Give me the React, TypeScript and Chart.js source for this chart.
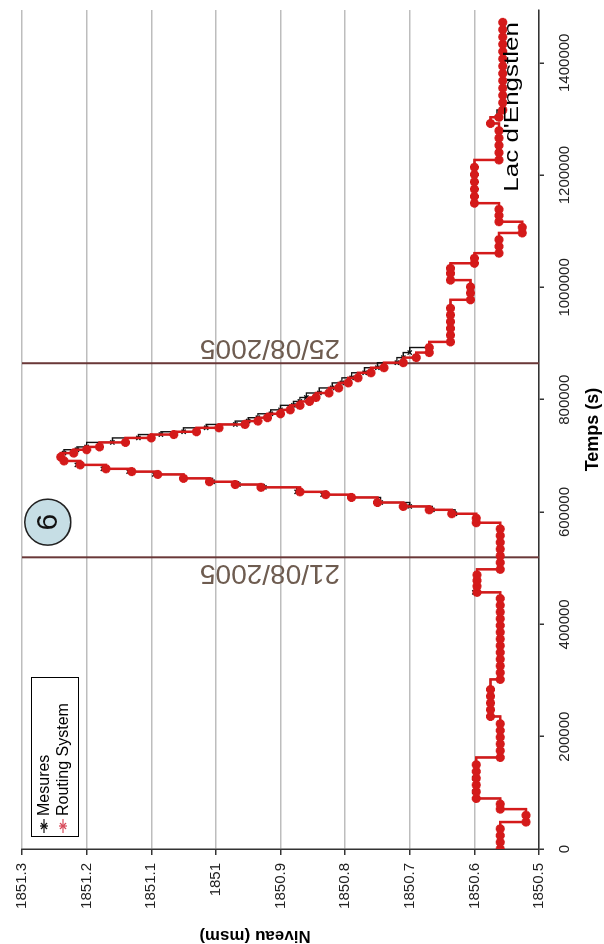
import React, { useEffect, useRef } from "react";
import { Chart, registerables } from "chart.js";

Chart.register(...registerables);

// ---- data (time in kiloseconds, level in m a.s.l.) ----
const timeKs = [
  0, 12, 24, 36, 48, 60, 71, 80, 90, 102, 114, 126, 138, 150, 163, 175, 187, 199, 211, 223,
  236, 248, 260, 272, 284, 302, 314, 326, 338, 350, 362, 374, 386, 398, 410, 422, 434, 446,
  457, 468, 478, 488, 498, 510, 522, 534, 546, 558, 570, 581, 589,
  597, 604, 610, 617, 626, 631, 636, 644, 649, 654, 660, 667, 672, 677, 684, 691, 698, 705,
  711, 716, 724, 732, 738, 743, 750, 756, 762, 768, 775, 782, 790, 797, 804, 812, 821, 830,
  839, 848, 857, 866, 875, 884, 893,
  903, 915, 927, 939, 951, 963, 978, 990, 1001, 1013, 1025, 1034, 1043, 1052, 1061, 1073,
  1085, 1097, 1107, 1117, 1128, 1139, 1150, 1162, 1175, 1188, 1201, 1214, 1227, 1240, 1253,
  1266, 1279, 1292, 1303, 1316, 1329, 1342, 1355, 1368, 1381, 1394, 1407, 1420, 1433, 1446,
  1459, 1472,
];

const mesures = [
  1850.56, 1850.56, 1850.56, 1850.56, 1850.52, 1850.52, 1850.56, 1850.56, 1850.597, 1850.6,
  1850.597, 1850.6, 1850.597, 1850.597, 1850.56, 1850.56, 1850.56, 1850.56, 1850.56, 1850.56,
  1850.575, 1850.575, 1850.575, 1850.575, 1850.575, 1850.56, 1850.56, 1850.56, 1850.56, 1850.56,
  1850.56, 1850.56, 1850.56, 1850.56, 1850.56, 1850.56, 1850.56, 1850.56,
  1850.6, 1850.596, 1850.596, 1850.596, 1850.56, 1850.56, 1850.56, 1850.56, 1850.56, 1850.56,
  1850.56, 1850.597, 1850.597,
  1850.63, 1850.665, 1850.7, 1850.745, 1850.79, 1850.835, 1850.875, 1850.925, 1850.965, 1851.005,
  1851.05, 1851.095, 1851.135, 1851.175, 1851.215, 1851.235, 1851.24, 1851.235, 1851.215, 1851.2,
  1851.16, 1851.12, 1851.085, 1851.05, 1851.015, 1850.97, 1850.95, 1850.935, 1850.915, 1850.9,
  1850.88, 1850.87, 1850.86, 1850.84, 1850.82, 1850.805, 1850.79, 1850.77, 1850.75, 1850.72,
  1850.71, 1850.7, 1850.67,
  1850.637, 1850.637, 1850.637, 1850.637, 1850.637, 1850.637, 1850.606, 1850.606, 1850.606,
  1850.637, 1850.637, 1850.637, 1850.6, 1850.6, 1850.562, 1850.562, 1850.562, 1850.526, 1850.526,
  1850.562, 1850.562, 1850.562, 1850.6, 1850.6, 1850.6, 1850.6, 1850.6, 1850.6, 1850.562,
  1850.562, 1850.562, 1850.562, 1850.562, 1850.575, 1850.565, 1850.556, 1850.556, 1850.556,
  1850.556, 1850.556, 1850.556, 1850.556, 1850.556, 1850.556, 1850.556, 1850.556, 1850.556,
  1850.556,
];

const routing = [
  1850.56, 1850.56, 1850.56, 1850.56, 1850.52, 1850.52, 1850.56, 1850.56, 1850.597, 1850.597,
  1850.597, 1850.597, 1850.597, 1850.597, 1850.56, 1850.56, 1850.56, 1850.56, 1850.56, 1850.56,
  1850.575, 1850.575, 1850.575, 1850.575, 1850.575, 1850.56, 1850.56, 1850.56, 1850.56, 1850.56,
  1850.56, 1850.56, 1850.56, 1850.56, 1850.56, 1850.56, 1850.56, 1850.56,
  1850.596, 1850.596, 1850.596, 1850.596, 1850.56, 1850.56, 1850.56, 1850.56, 1850.56, 1850.56,
  1850.56, 1850.597, 1850.597,
  1850.635, 1850.67, 1850.71, 1850.75, 1850.79, 1850.83, 1850.87, 1850.93, 1850.97, 1851.01,
  1851.05, 1851.09, 1851.13, 1851.17, 1851.21, 1851.235, 1851.24, 1851.22, 1851.2, 1851.18,
  1851.14, 1851.1, 1851.065, 1851.03, 1850.995, 1850.955, 1850.935, 1850.92, 1850.9, 1850.885,
  1850.87, 1850.855, 1850.845, 1850.825, 1850.81, 1850.795, 1850.78, 1850.76, 1850.74, 1850.71,
  1850.69, 1850.67, 1850.67,
  1850.637, 1850.637, 1850.637, 1850.637, 1850.637, 1850.637, 1850.606, 1850.606, 1850.606,
  1850.637, 1850.637, 1850.637, 1850.6, 1850.6, 1850.562, 1850.562, 1850.562, 1850.526, 1850.526,
  1850.562, 1850.562, 1850.562, 1850.6, 1850.6, 1850.6, 1850.6, 1850.6, 1850.6, 1850.562,
  1850.562, 1850.562, 1850.562, 1850.562, 1850.575, 1850.562, 1850.556, 1850.556, 1850.556,
  1850.556, 1850.556, 1850.556, 1850.556, 1850.556, 1850.556, 1850.556, 1850.556, 1850.556,
  1850.556,
];

const seriesNames = ["Mesures", "Routing System"];
const dateLabels = ["21/08/2005", "25/08/2005"];
const dateLinesSec = [519400, 865000];
const eventLabel = "6";
const eventPos = [582000, 1851.26];
const lakeName = "Lac d'Engstlen";
const xTitle = "Temps (s)";
const yTitle = "Niveau (msm)";
const timeTicks = [0, 200000, 400000, 600000, 800000, 1000000, 1200000, 1400000];
const levelTicks = [1850.5, 1850.6, 1850.7, 1850.8, 1850.9, 1851, 1851.1, 1851.2, 1851.3];
const levelMin = 1850.5;
const levelMax = 1851.3;
const timeMax = 1494000;

const FONT = "'Liberation Sans', Arial, sans-serif";
const RED = "#d41a1a";
const BLACK = "#111111";

const overlay = {
  id: "overlay",
  beforeDatasetsDraw(chart: any) {
    const { ctx, chartArea, scales } = chart;
    ctx.save();
    dateLinesSec.forEach((t, i) => {
      const x = scales.x.getPixelForValue(t);
      ctx.strokeStyle = "#6a3838";
      ctx.lineWidth = 2;
      ctx.beginPath();
      ctx.moveTo(x, chartArea.top);
      ctx.lineTo(x, chartArea.bottom);
      ctx.stroke();
      ctx.save();
      ctx.translate(i === 0 ? x - 15 : x + 16, chartArea.top + 248);
      ctx.rotate(-Math.PI / 2);
      ctx.fillStyle = "#6e5c50";
      ctx.font = `28px ${FONT}`;
      ctx.textAlign = "center";
      ctx.textBaseline = "middle";
      ctx.fillText(dateLabels[i], 0, 0);
      ctx.restore();
    });
    ctx.restore();
  },
  afterDraw(chart: any) {
    const { ctx, chartArea, scales } = chart;
    ctx.save();
    // event circle
    const cx = scales.x.getPixelForValue(eventPos[0]);
    const cy = scales.y.getPixelForValue(eventPos[1]);
    ctx.beginPath();
    ctx.arc(cx, cy, 23, 0, Math.PI * 2);
    ctx.fillStyle = "#c6dee5";
    ctx.fill();
    ctx.lineWidth = 1.5;
    ctx.strokeStyle = "#222";
    ctx.stroke();
    ctx.fillStyle = "#111";
    ctx.font = `30px ${FONT}`;
    ctx.textAlign = "center";
    ctx.textBaseline = "middle";
    ctx.fillText(eventLabel, cx, cy + 1);

    // lake name (stretched along its reading direction, as in the original)
    ctx.save();
    ctx.translate(chartArea.right - 12, 518);
    ctx.scale(1.3, 1);
    ctx.font = `20px ${FONT}`;
    ctx.textAlign = "right";
    ctx.textBaseline = "alphabetic";
    ctx.fillStyle = "#000";
    ctx.fillText(lakeName, 0, 0);
    ctx.restore();

    // legend
    const lx = 107, ly = 31, lw = 159, lh = 47;
    ctx.fillStyle = "#fff";
    ctx.fillRect(lx, ly, lw, lh);
    ctx.strokeStyle = "#000";
    ctx.lineWidth = 1;
    ctx.strokeRect(lx + 0.5, ly + 0.5, lw, lh);
    const rows = [44, 63];
    const cols = [BLACK, "#d84a5a"];
    rows.forEach((ry, i) => {
      ctx.strokeStyle = cols[i];
      ctx.lineWidth = 1.2;
      ctx.beginPath();
      ctx.moveTo(111, ry);
      ctx.lineTo(125, ry);
      ctx.stroke();
      ctx.beginPath();
      ctx.moveTo(115, ry - 3);
      ctx.lineTo(121, ry + 3);
      ctx.moveTo(121, ry - 3);
      ctx.lineTo(115, ry + 3);
      ctx.moveTo(118, ry - 4);
      ctx.lineTo(118, ry + 4);
      ctx.stroke();
      ctx.fillStyle = "#000";
      ctx.font = `16px ${FONT}`;
      ctx.textAlign = "left";
      ctx.textBaseline = "middle";
      ctx.fillText(seriesNames[i], 128, ry + 1);
    });

    // axis titles
    ctx.font = `bold 18px ${FONT}`;
    ctx.textAlign = "center";
    ctx.textBaseline = "middle";
    ctx.fillStyle = "#000";
    ctx.fillText(xTitle, (chartArea.left + chartArea.right) / 2, 593);
    ctx.save();
    ctx.translate(8, 255);
    ctx.rotate(-Math.PI / 2);
    ctx.font = `bold 17px ${FONT}`;
    ctx.fillText(yTitle, 0, 0);
    ctx.restore();
    ctx.restore();
  },
};

export default function App() {
  const ref = useRef<HTMLCanvasElement>(null);
  useEffect(() => {
    const canvas = ref.current!;
    const pts = (arr: number[]) => timeKs.map((t, i) => ({ x: t * 1000, y: arr[i] }));
    const chart = new Chart(canvas, {
      type: "line",
      data: {
        datasets: [
          {
            label: seriesNames[0],
            data: pts(mesures),
            borderColor: BLACK,
            backgroundColor: BLACK,
            borderWidth: 1.4,
            pointStyle: "crossRot",
            pointRadius: 3,
            pointBorderWidth: 1.4,
            pointBorderColor: BLACK,
            stepped: true,
            order: 1,
          },
          {
            label: seriesNames[1],
            data: pts(routing),
            borderColor: RED,
            backgroundColor: RED,
            borderWidth: 2.5,
            pointStyle: "star",
            pointRadius: 4.5,
            pointBorderWidth: 3,
            pointBorderColor: RED,
            stepped: true,
            order: 0,
          },
        ],
      },
      options: {
        animation: false,
        responsive: false,
        devicePixelRatio: 1,
        layout: { padding: { left: 0, right: 10, top: 22, bottom: 0 } },
        plugins: { legend: { display: false }, tooltip: { enabled: false } },
        scales: {
          x: {
            type: "linear",
            min: 0,
            max: timeMax,
            afterBuildTicks: (s: any) => {
              s.ticks = timeTicks.map((v) => ({ value: v }));
            },
            afterFit: (s: any) => {
              s.height = 65;
              s.paddingLeft = 0;
              s.paddingRight = 0;
            },
            ticks: {
              maxRotation: 0,
              autoSkip: false,
              padding: 12,
              color: "#222",
              font: { family: FONT, size: 15 },
              callback: (v: any) => String(v),
            },
            grid: { drawOnChartArea: false, tickLength: 5, color: "#333", lineWidth: 1.5 },
            border: { display: true, color: "#333", width: 1.5 },
          },
          y: {
            type: "linear",
            min: levelMin,
            max: levelMax,
            afterBuildTicks: (s: any) => {
              s.ticks = levelTicks.map((v) => ({ value: v }));
            },
            afterFit: (s: any) => {
              s.width = 95;
              s.paddingTop = 0;
              s.paddingBottom = 0;
            },
            ticks: {
              padding: 8,
              color: "#222",
              font: { family: FONT, size: 15 },
              callback: (v: any) => String(Math.round(v * 10) / 10),
            },
            grid: { color: "#bdbdbd", lineWidth: 1.5, tickLength: 6, tickColor: "#333" },
            border: { display: true, color: "#333", width: 1.5 },
          },
        },
      },
      plugins: [overlay],
    } as any);
    return () => chart.destroy();
  }, []);

  return (
    <div
      style={{
        position: "absolute",
        left: 0,
        top: 0,
        width: 604,
        height: 944,
        overflow: "hidden",
        background: "#fff",
      }}
    >
      <canvas
        ref={ref}
        width={944}
        height={604}
        style={{
          position: "absolute",
          left: 0,
          top: 0,
          width: 944,
          height: 604,
          transformOrigin: "0 0",
          transform: "translateY(944px) rotate(-90deg)",
        }}
      />
    </div>
  );
}
